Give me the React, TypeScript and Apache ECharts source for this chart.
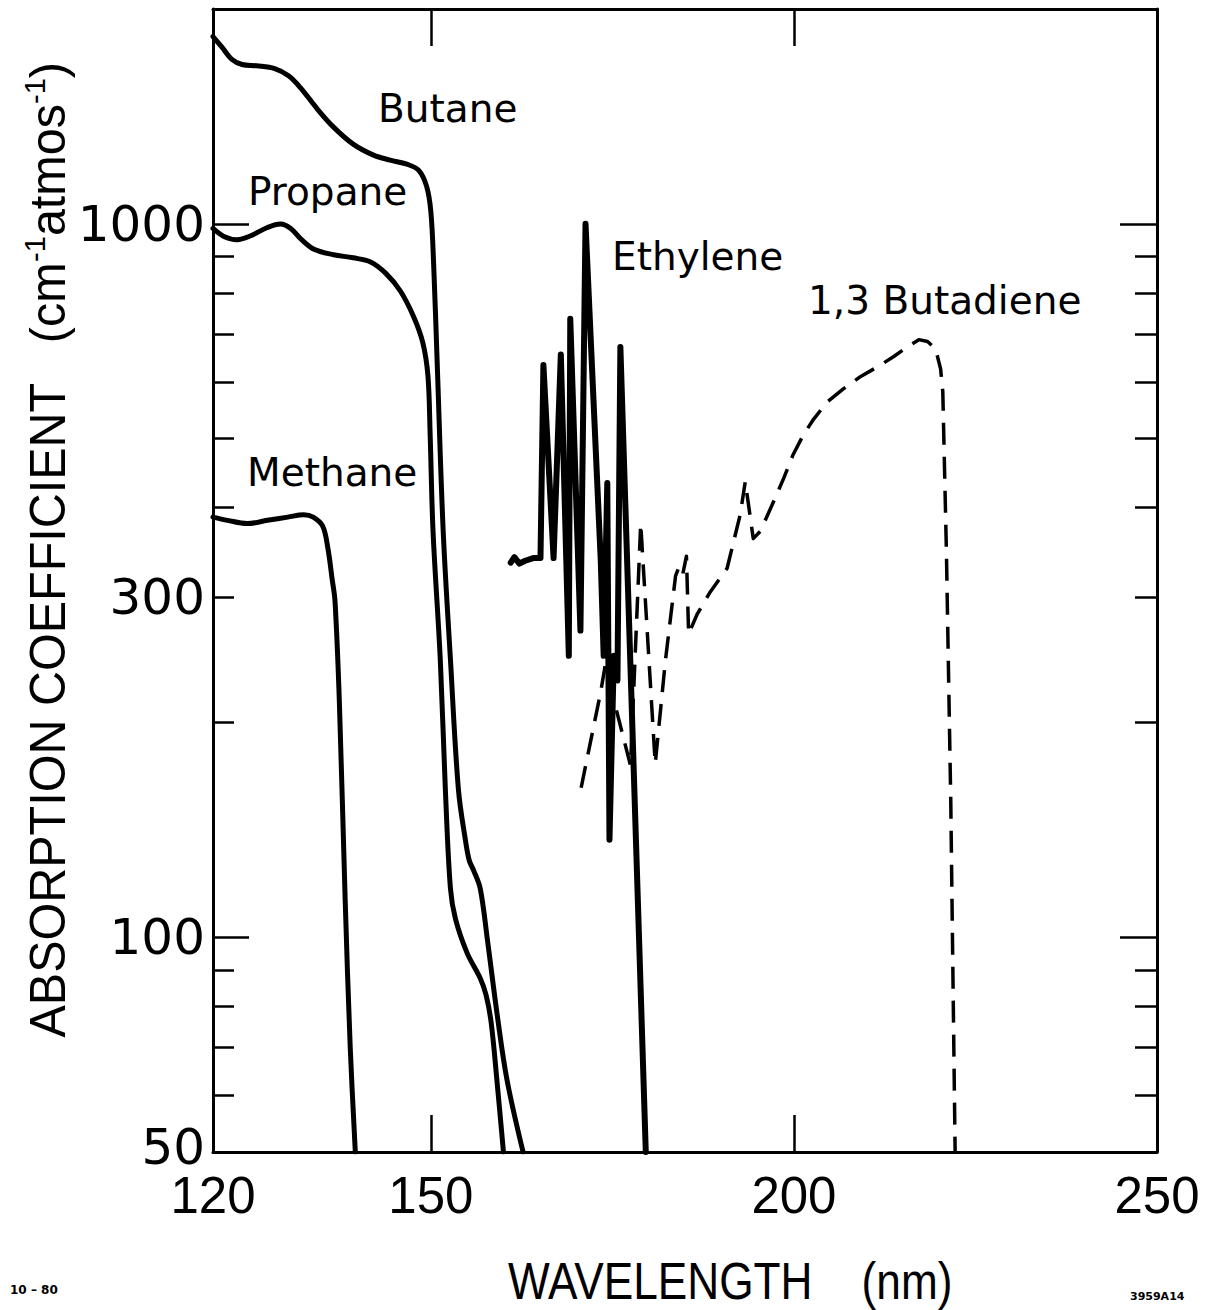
import React, { useEffect, useRef } from "react";
import * as echarts from "echarts";

// ---- axis values ----
const xLabelValues = [120, 150, 200, 250];
const xTickValues = [150, 200];
const yLabelValues = [50, 100, 300, 1000];
const yMajorTicks = [100, 1000];
const yMinorTicks = [60, 70, 80, 90, 200, 300, 400, 500, 600, 700, 800, 900];

// ---- series names ----
const seriesNames = ["Butane", "Propane", "Methane", "Ethylene", "1,3 Butadiene"];

// ---- data: [wavelength nm, absorption coefficient] ----
const butane: [number, number][] = [
  [120.0, 1830], [121.2, 1770], [122.6, 1700], [124.0, 1672], [126.0, 1665],
  [128.5, 1650], [130.4, 1612], [132.0, 1553], [134.4, 1447], [136.6, 1366],
  [139.3, 1293], [142.1, 1248], [144.4, 1228], [146.7, 1212], [148.3, 1189],
  [149.4, 1130], [150.0, 1040], [150.4, 870], [150.9, 627], [151.7, 371],
  [152.7, 245], [153.8, 161], [154.8, 136], [155.3, 128], [155.9, 124],
  [156.8, 117], [157.8, 99], [159.2, 77], [160.5, 63], [162.7, 50],
];

const propane: [number, number][] = [
  [120.0, 985], [121.5, 960], [123.3, 950], [125.2, 962], [127.5, 988],
  [129.3, 999], [130.7, 985], [132.2, 950], [134.0, 920], [136.6, 905],
  [139.3, 896], [141.7, 884], [143.8, 852], [145.8, 805], [147.6, 742],
  [148.9, 681], [149.6, 612], [149.9, 508], [150.3, 371], [151.3, 245],
  [152.0, 161], [152.7, 117], [153.4, 106], [155.0, 95], [156.8, 87.6],
  [157.6, 83], [158.3, 76], [159.1, 63], [160.0, 50],
];

const methane: [number, number][] = [
  [120.0, 388], [122.0, 384], [124.7, 380], [127.5, 384], [130.3, 388],
  [132.5, 391], [133.8, 388], [135.1, 377], [135.8, 352], [136.4, 318],
  [136.8, 296], [137.4, 214], [138.2, 113], [138.9, 70], [139.6, 50],
];

const ethylene: [number, number][] = [
  [161.0, 335], [161.5, 341], [162.2, 334], [163.0, 337], [164.1, 340],
  [165.1, 340], [165.5, 634], [166.9, 340], [167.9, 656], [169.0, 248],
  [169.2, 736], [170.6, 269], [171.3, 1000], [173.4, 337], [173.8, 248],
  [174.3, 433], [174.6, 137], [175.2, 248], [175.7, 229], [176.1, 672],
  [179.6, 50],
];

const butadiene: [number, number][] = [
  [170.7, 162], [173.4, 221], [174.0, 240], [177.5, 174], [178.9, 380],
  [180.9, 175], [182.3, 244], [183.7, 321], [184.2, 331], [184.7, 323],
  [185.2, 342], [185.5, 266], [186.7, 284], [188.5, 305], [190.8, 329],
  [192.6, 391], [193.3, 435], [194.4, 362], [195.4, 371], [197.2, 408],
  [198.6, 440], [199.9, 475], [201.3, 506], [202.7, 532], [204.6, 563],
  [206.8, 587], [209.2, 611], [211.5, 630], [213.7, 651], [215.6, 672],
  [217.2, 688], [218.4, 684], [219.5, 668], [220.2, 626], [220.5, 582],
  [221.0, 347], [221.6, 155], [222.2, 50],
];

export default function App() {
  const ref = useRef<HTMLDivElement>(null);

  useEffect(() => {
    if (!ref.current) return;
    const chart = echarts.init(ref.current, null, { renderer: "svg" });
    const black = "#000";
    const axisLine = { show: true, lineStyle: { color: black, width: 3 } };
    const tickStyle = { color: black, width: 2.5 };
    const yBase = {
      type: "log",
      logBase: 10,
      min: 50,
      max: 2000,
      splitLine: { show: false },
      minorTick: { show: false },
    };
    const solid = (w: number) => ({ color: black, width: w, cap: "round", join: "round" });
    const labelFont = { fontFamily: "DejaVu Sans", fontSize: 39, fill: black, align: "left", verticalAlign: "middle" };

    chart.setOption({
      animation: false,
      backgroundColor: "#ffffff",
      grid: {
        left: 213,
        right: 50,
        top: 9,
        bottom: 158,
        containLabel: false,
        outerBoundsMode: "none",
      },
      xAxis: [
        {
          type: "value",
          min: 120,
          max: 250,
          position: "bottom",
          axisLine,
          axisTick: { show: true, inside: true, length: 37, customValues: xTickValues, lineStyle: tickStyle },
          axisLabel: {
            show: true,
            customValues: xLabelValues,
            formatter: (v: number) => String(v),
            margin: 25,
            lineHeight: 36,
            color: black,
            fontFamily: "Liberation Sans",
            fontSize: 51,
          },
          splitLine: { show: false },
        },
        {
          type: "value",
          min: 120,
          max: 250,
          position: "top",
          axisLine,
          axisTick: { show: true, inside: true, length: 37, customValues: xTickValues, lineStyle: tickStyle },
          axisLabel: { show: false },
          splitLine: { show: false },
        },
      ],
      yAxis: [
        {
          ...yBase,
          position: "left",
          axisLine,
          axisTick: { show: true, inside: true, length: 36, customValues: yMajorTicks, lineStyle: tickStyle },
          axisLabel: {
            show: true,
            customValues: yLabelValues,
            formatter: (v: number) => {
              const s = String(Math.round(v));
              return Math.round(v) === 50 ? "{low|" + s + "}" : s;
            },
            margin: 8,
            lineHeight: 36,
            color: black,
            fontFamily: "DejaVu Sans",
            fontSize: 50,
            rich: {
              low: { fontFamily: "DejaVu Sans", fontSize: 50, lineHeight: 36, color: black, padding: [0, 0, 10, 0] },
            },
          },
        },
        {
          ...yBase,
          position: "left",
          axisLine: { show: false },
          axisTick: { show: true, inside: true, length: 21, customValues: yMinorTicks, lineStyle: tickStyle },
          axisLabel: { show: false },
        },
        {
          ...yBase,
          position: "right",
          axisLine,
          axisTick: { show: true, inside: true, length: 37, customValues: yMajorTicks, lineStyle: tickStyle },
          axisLabel: { show: false },
        },
        {
          ...yBase,
          position: "right",
          axisLine: { show: false },
          axisTick: { show: true, inside: true, length: 22, customValues: yMinorTicks, lineStyle: tickStyle },
          axisLabel: { show: false },
        },
      ],
      series: [
        { name: seriesNames[0], type: "line", data: butane, symbol: "none", smooth: 0.35, lineStyle: solid(5), silent: true },
        { name: seriesNames[1], type: "line", data: propane, symbol: "none", smooth: 0.35, lineStyle: solid(5), silent: true },
        { name: seriesNames[2], type: "line", data: methane, symbol: "none", smooth: 0.35, lineStyle: solid(5), silent: true },
        { name: seriesNames[3], type: "line", data: ethylene, symbol: "none", smooth: false, lineStyle: solid(6), silent: true },
        {
          name: seriesNames[4],
          type: "line",
          data: butadiene,
          symbol: "none",
          smooth: false,
          lineStyle: { color: black, width: 3.5, type: [22, 12], cap: "butt", join: "round" },
          silent: true,
        },
      ],
      graphic: [
        { type: "text", x: 378, y: 108, style: { text: seriesNames[0], ...labelFont } },
        { type: "text", x: 248, y: 191, style: { text: seriesNames[1], ...labelFont } },
        { type: "text", x: 247, y: 472, style: { text: seriesNames[2], ...labelFont } },
        { type: "text", x: 612, y: 256, style: { text: seriesNames[3], ...labelFont } },
        { type: "text", x: 808, y: 300, style: { text: seriesNames[4], ...labelFont } },
        {
          type: "text",
          x: 47,
          y: 550,
          rotation: Math.PI / 2,
          scaleX: 0.97,
          style: {
            text: "ABSORPTION COEFFICIENT   (cm{sup|-1}atmos{sup|-1})",
            fontFamily: "Liberation Sans",
            fontSize: 50,
            lineHeight: 56,
            fill: black,
            align: "center",
            verticalAlign: "middle",
            rich: { sup: { fontFamily: "Liberation Sans", fontSize: 30, verticalAlign: "top", fill: black } },
          },
        },
        {
          type: "text",
          x: 508,
          y: 1281,
          scaleX: 0.85,
          style: {
            text: "WAVELENGTH    (nm)",
            fontFamily: "Liberation Sans",
            fontSize: 52,
            fill: black,
            align: "left",
            verticalAlign: "middle",
          },
        },
        { type: "text", x: 10, y: 1290, style: { text: "10 – 80", fontFamily: "DejaVu Sans", fontSize: 12, fontWeight: "bold", fill: black, align: "left", verticalAlign: "middle" } },
        { type: "text", x: 1130, y: 1296, style: { text: "3959A14", fontFamily: "DejaVu Sans", fontSize: 11, fontWeight: "bold", fill: black, align: "left", verticalAlign: "middle" } },
      ],
    });

    return () => chart.dispose();
  }, []);

  return (
    <div
      ref={ref}
      style={{ position: "absolute", left: 0, top: 0, width: 1207, height: 1310, background: "#fff" }}
    />
  );
}
